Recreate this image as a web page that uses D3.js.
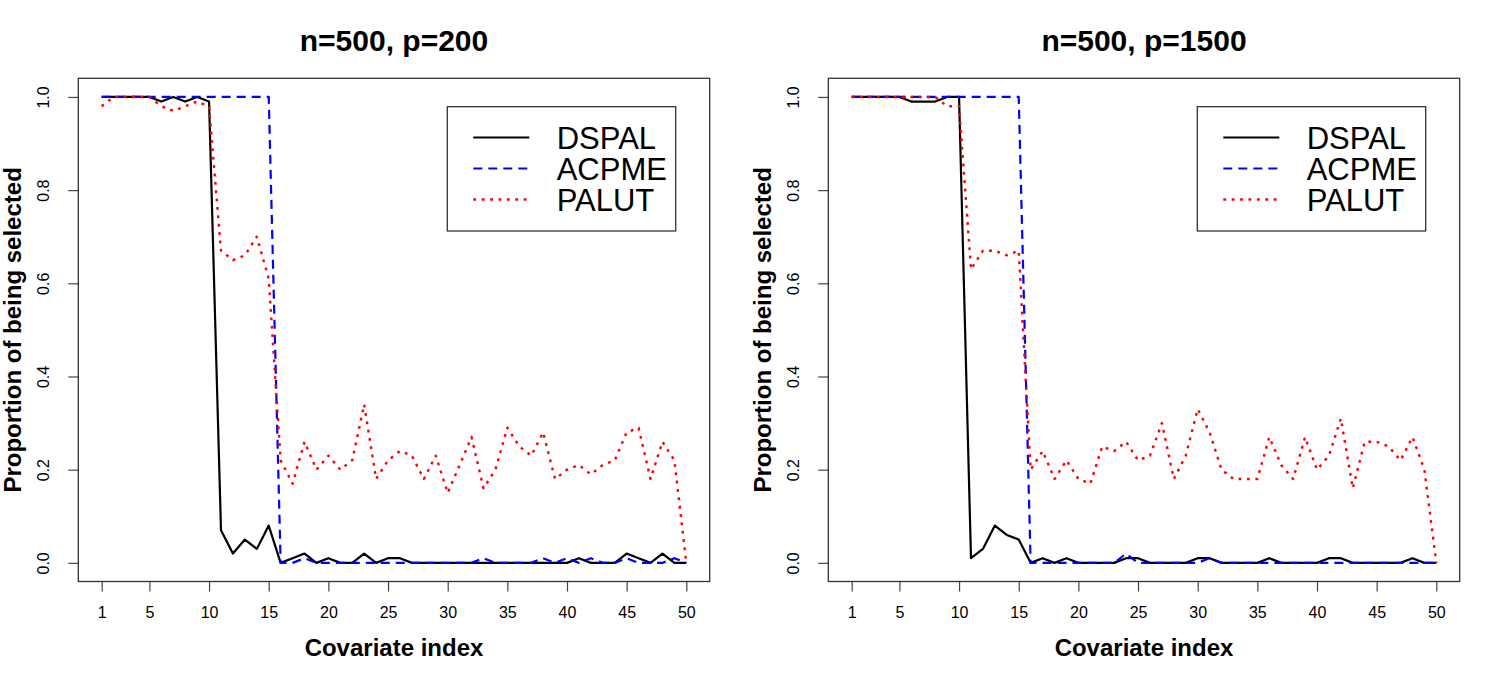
<!DOCTYPE html>
<html>
<head>
<meta charset="utf-8">
<script src="https://cdn.jsdelivr.net/npm/d3@7"></script>
<style>
  body { margin: 0; background: #fff; }
  svg { font-family: "Liberation Sans", Arial, Helvetica, sans-serif; }
  .tick text { font-size: 16px; font-family: "Liberation Sans", Arial, sans-serif; }
</style>
</head>
<body>
<div id="chart"></div>
<script>
// covariate index on the x axis
var covIndex = [1, 2, 3, 4, 5, 6, 7, 8, 9, 10, 11, 12, 13, 14, 15, 16, 17, 18, 19, 20,
                21, 22, 23, 24, 25, 26, 27, 28, 29, 30, 31, 32, 33, 34, 35, 36, 37, 38, 39, 40,
                41, 42, 43, 44, 45, 46, 47, 48, 49, 50];
var xTicks = [1, 5, 10, 15, 20, 25, 30, 35, 40, 45, 50];
var yTicks = [0, 0.2, 0.4, 0.6, 0.8, 1.0];
var seriesNames = ["DSPAL", "ACPME", "PALUT"];
var panelTitles = ["n=500, p=200", "n=500, p=1500"];

// n=500, p=200
var dspal200 = [1, 1, 1, 1, 1, 0.99, 1, 0.99, 1, 0.99, 0.07, 0.02, 0.05, 0.03, 0.08,
                0, 0.01, 0.02, 0, 0.01, 0, 0, 0.02, 0, 0.01, 0.01, 0, 0, 0, 0,
                0, 0, 0, 0, 0, 0, 0, 0, 0, 0, 0.01, 0, 0, 0, 0.02, 0.01, 0, 0.02, 0, 0];
var acpme200 = [1, 1, 1, 1, 1, 1, 1, 1, 1, 1, 1, 1, 1, 1, 1,
                0, 0, 0.01, 0, 0, 0, 0, 0, 0, 0, 0, 0, 0, 0, 0,
                0, 0, 0.01, 0, 0, 0, 0, 0.01, 0, 0.01, 0, 0.01, 0, 0, 0.01, 0, 0, 0, 0.01, 0];
var palut200 = [0.98, 1, 1, 1, 1, 0.98, 0.97, 0.98, 0.99, 0.98, 0.67, 0.65, 0.66, 0.70, 0.61,
                0.22, 0.17, 0.26, 0.20, 0.23, 0.20, 0.22, 0.34, 0.18, 0.22, 0.24, 0.23, 0.18, 0.23, 0.15,
                0.21, 0.27, 0.16, 0.20, 0.29, 0.25, 0.23, 0.28, 0.18, 0.20, 0.21, 0.19, 0.21, 0.22, 0.28,
                0.29, 0.18, 0.26, 0.22, 0];

// n=500, p=1500
var dspal1500 = [1, 1, 1, 1, 1, 0.99, 0.99, 0.99, 1, 1, 0.01, 0.03, 0.08, 0.06, 0.05,
                 0, 0.01, 0, 0.01, 0, 0, 0, 0, 0.01, 0.01, 0, 0, 0, 0, 0.01,
                 0.01, 0, 0, 0, 0, 0.01, 0, 0, 0, 0, 0.01, 0.01, 0, 0, 0, 0, 0, 0.01, 0, 0];
var acpme1500 = [1, 1, 1, 1, 1, 1, 1, 1, 1, 1, 1, 1, 1, 1, 1,
                 0, 0, 0, 0, 0, 0, 0, 0, 0.02, 0, 0, 0, 0, 0, 0,
                 0.01, 0, 0, 0, 0, 0, 0, 0, 0, 0, 0, 0, 0, 0, 0, 0, 0, 0, 0, 0];
var palut1500 = [1, 1, 1, 1, 1, 1, 1, 1, 0.98, 0.98, 0.63, 0.67, 0.67, 0.66, 0.67,
                 0.20, 0.24, 0.18, 0.22, 0.18, 0.17, 0.25, 0.24, 0.26, 0.22, 0.23, 0.30, 0.18, 0.23, 0.33,
                 0.28, 0.20, 0.18, 0.18, 0.18, 0.27, 0.21, 0.18, 0.27, 0.20, 0.23, 0.31, 0.16, 0.26, 0.26,
                 0.25, 0.22, 0.27, 0.20, 0];

var lineStyles = [
  {color: "#000000", dash: null, width: 2.2},
  {color: "#0000ff", dash: "9,6", width: 2.2},
  {color: "#ff0000", dash: "2.8,5.6", width: 2.4}
];

var svg = d3.select("#chart").append("svg")
    .attr("width", 1500)
    .attr("height", 680);

var drawPanel = function(config) {
  var left = config.left,
      top = 78.3,
      width = 631.4,
      height = 503.2,
      g = svg.append("g").attr("transform", "translate(" + left + "," + top + ")");

  // R style: 4% padding on both axes
  var xScale = d3.scaleLinear().domain([-0.96, 51.96]).range([0, width]),
      yScale = d3.scaleLinear().domain([-0.04, 1.04]).range([height, 0]);

  var xAxis = d3.axisBottom(xScale).tickValues(xTicks).tickSize(10).tickPadding(15)
      .tickFormat(d3.format("d"));
  var gx = g.append("g")
      .attr("transform", "translate(0," + height + ")")
      .call(xAxis)
      .attr("font-size", 16)
      .attr("font-family", "Liberation Sans, Arial, sans-serif");
  gx.select(".domain").remove();
  gx.selectAll("line").attr("stroke", "#444").attr("stroke-width", 1.2);
  gx.selectAll("text").attr("fill", "#000");

  var yAxis = d3.axisLeft(yScale).tickValues(yTicks).tickSize(10)
      .tickFormat(d3.format(".1f"));
  var gy = g.append("g").call(yAxis)
      .attr("font-size", 16)
      .attr("font-family", "Liberation Sans, Arial, sans-serif");
  gy.select(".domain").remove();
  gy.selectAll("line").attr("stroke", "#444").attr("stroke-width", 1.2);
  gy.selectAll("text")
      .attr("x", null)
      .attr("dy", null)
      .attr("text-anchor", "middle")
      .attr("transform", "translate(-29.5,0) rotate(-90)")
      .attr("fill", "#000");

  var line = d3.line()
      .x(function(d, i) { return xScale(covIndex[i]); })
      .y(function(d) { return yScale(d); });

  config.series.forEach(function(values, i) {
    g.append("path")
      .datum(values)
      .attr("fill", "none")
      .attr("stroke", lineStyles[i].color)
      .attr("stroke-width", lineStyles[i].width)
      .attr("stroke-dasharray", lineStyles[i].dash)
      .attr("stroke-linejoin", "round")
      .attr("d", line);
  });

  // plot box
  g.append("rect")
    .attr("x", 0).attr("y", 0)
    .attr("width", width).attr("height", height)
    .attr("fill", "none")
    .attr("stroke", "#333")
    .attr("stroke-width", 1.3);

  g.append("text")
    .attr("x", width / 2)
    .attr("y", -27.3)
    .attr("text-anchor", "middle")
    .style("font-size", "30px")
    .style("font-weight", "bold")
    .text(config.title);

  g.append("text")
    .attr("x", width / 2)
    .attr("y", 578)
    .attr("text-anchor", "middle")
    .style("font-size", "24px")
    .style("font-weight", "bold")
    .text("Covariate index");

  g.append("text")
    .attr("transform", "translate(-57.3," + (height / 2) + ") rotate(-90)")
    .attr("text-anchor", "middle")
    .style("font-size", "24px")
    .style("font-weight", "bold")
    .text("Proportion of being selected");

  // legend, top right
  var legend = g.append("g")
    .attr("transform", "translate(" + (width - 262.4) + ",28.4)");

  legend.append("rect")
    .attr("width", 228.4)
    .attr("height", 124.3)
    .attr("fill", "#fff")
    .attr("stroke", "#333")
    .attr("stroke-width", 1.3);

  var rows = legend.selectAll(".legend")
    .data(seriesNames)
    .enter().append("g")
    .attr("class", "legend")
    .attr("transform", function(d, i) { return "translate(0," + (30.8 + i * 31) + ")"; });

  rows.append("line")
    .attr("x1", 26).attr("x2", 82)
    .attr("y1", 0).attr("y2", 0)
    .attr("stroke", function(d, i) { return lineStyles[i].color; })
    .attr("stroke-width", function(d, i) { return lineStyles[i].width; })
    .attr("stroke-dasharray", function(d, i) { return lineStyles[i].dash; });

  rows.append("text")
    .attr("x", 109.4)
    .attr("y", 11.8)
    .style("font-size", "31px")
    .text(function(d) { return d; });
};

drawPanel({left: 78.3, title: panelTitles[0], series: [dspal200, acpme200, palut200]});
drawPanel({left: 828.3, title: panelTitles[1], series: [dspal1500, acpme1500, palut1500]});
</script>
</body>
</html>
